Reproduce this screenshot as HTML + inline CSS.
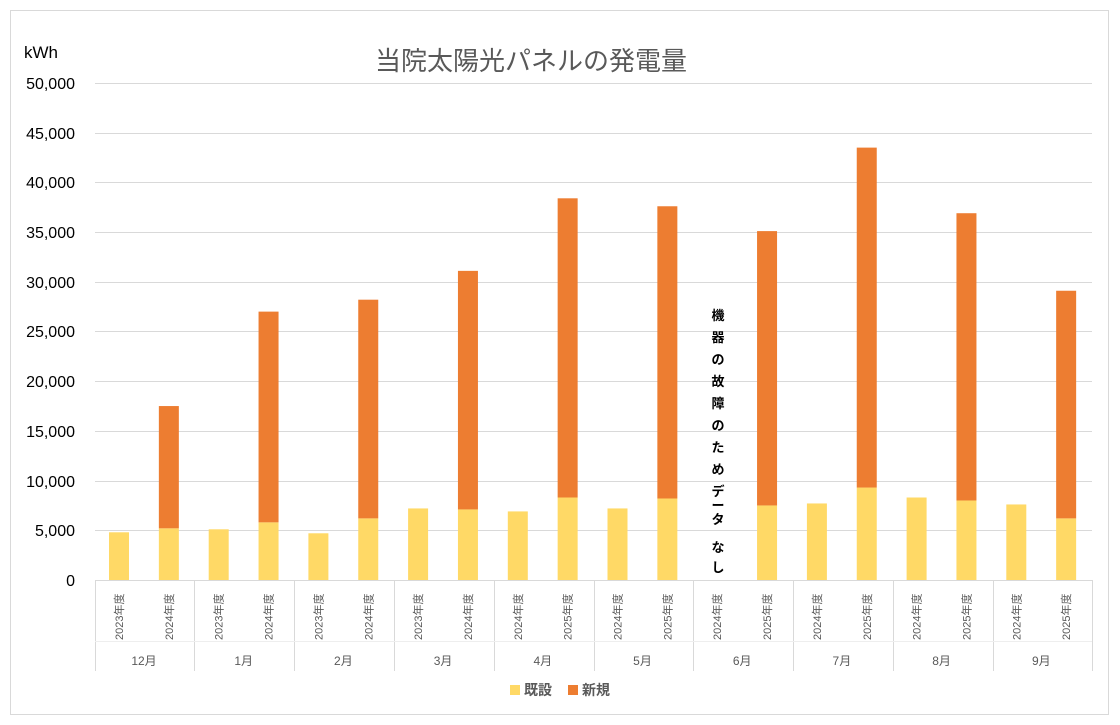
<!DOCTYPE html>
<html><head><meta charset="utf-8"><style>
body{margin:0;background:#fff}
svg{display:block;font-family:"Liberation Sans","Noto Sans CJK JP",sans-serif}
</style></head><body>
<svg width="1120" height="725" viewBox="0 0 1120 725" xmlns="http://www.w3.org/2000/svg">
<rect x="10.5" y="10.5" width="1098" height="704" fill="#fff" stroke="#d9d9d9"/>
<text x="531" y="70" font-size="26" fill="#595959" text-anchor="middle">当院太陽光パネルの発電量</text>
<text x="24" y="58" font-size="17" fill="#000">kWh</text>
<g stroke="#d9d9d9" stroke-width="1">
<line x1="95" x2="1092" y1="83.5" y2="83.5"/><line x1="95" x2="1092" y1="133.5" y2="133.5"/>
<line x1="95" x2="1092" y1="182.5" y2="182.5"/><line x1="95" x2="1092" y1="232.5" y2="232.5"/>
<line x1="95" x2="1092" y1="282.5" y2="282.5"/><line x1="95" x2="1092" y1="331.5" y2="331.5"/>
<line x1="95" x2="1092" y1="381.5" y2="381.5"/><line x1="95" x2="1092" y1="431.5" y2="431.5"/>
<line x1="95" x2="1092" y1="481.5" y2="481.5"/><line x1="95" x2="1092" y1="530.5" y2="530.5"/>
<line x1="95" x2="1092" y1="580.5" y2="580.5"/>
</g>
<g font-size="16" fill="#000" text-anchor="end">
<text x="75" y="89">50,000</text><text x="75" y="139">45,000</text><text x="75" y="188">40,000</text>
<text x="75" y="238">35,000</text><text x="75" y="288">30,000</text><text x="75" y="337">25,000</text>
<text x="75" y="387">20,000</text><text x="75" y="437">15,000</text><text x="75" y="487">10,000</text>
<text x="75" y="536">5,000</text><text x="75" y="586">0</text>
</g>
<g id="bars"></g>
<g stroke="#d9d9d9">
<line x1="95.5" x2="95.5" y1="580" y2="671"/><line x1="194.5" x2="194.5" y1="580" y2="671"/>
<line x1="294.5" x2="294.5" y1="580" y2="671"/><line x1="394.5" x2="394.5" y1="580" y2="671"/>
<line x1="494.5" x2="494.5" y1="580" y2="671"/><line x1="594.5" x2="594.5" y1="580" y2="671"/>
<line x1="693.5" x2="693.5" y1="580" y2="671"/><line x1="793.5" x2="793.5" y1="580" y2="671"/>
<line x1="893.5" x2="893.5" y1="580" y2="671"/><line x1="993.5" x2="993.5" y1="580" y2="671"/>
<line x1="1092.5" x2="1092.5" y1="580" y2="671"/>
<line x1="95" x2="1092" y1="641.5" y2="641.5" stroke="#eeeeee"/>
</g>
<g font-size="12" fill="#595959" text-anchor="middle" id="months"></g>
<g font-size="11" fill="#595959" id="years"></g>
<g font-size="13" font-weight="bold" fill="#000" text-anchor="middle">
<text x="718" y="320">機</text><text x="718" y="342">器</text><text x="718" y="364">の</text>
<text x="718" y="386">故</text><text x="718" y="408">障</text><text x="718" y="430">の</text>
<text x="718" y="452">た</text><text x="718" y="474">め</text><text x="718" y="496">デ</text>
<text x="718" y="510">ー</text><text x="718" y="524">タ</text><text x="718" y="552">な</text><text x="718" y="572">し</text>
</g>
<rect x="510" y="685" width="10" height="10" fill="#ffd966"/>
<text x="524" y="695" font-size="14" font-weight="bold" fill="#595959">既設</text>
<rect x="568" y="685" width="10" height="10" fill="#ed7d31"/>
<text x="582" y="695" font-size="14" font-weight="bold" fill="#595959">新規</text>
<script>
var d=[[4800,0],[5200,17500],[5100,0],[5800,27000],[4700,0],[6200,28200],[7200,0],[7100,31100],[6900,0],[8300,38400],[7200,0],[8200,37600],[0,0],[7500,35100],[7700,0],[9300,43500],[8300,0],[8000,36900],[7600,0],[6200,29100]];
var yrs=["2023","2024","2023","2024","2023","2024","2023","2024","2024","2025","2024","2025","2024","2025","2024","2025","2024","2025","2024","2025"];
var m=["12月","1月","2月","3月","4月","5月","6月","7月","8月","9月"];
var ns="http://www.w3.org/2000/svg",b=document.getElementById("bars"),yg=document.getElementById("years"),mg=document.getElementById("months");
function Y(v){return 580-v*0.00994;}
d.forEach(function(p,i){var cx=119+i*49.85;
if(p[0]){var r=document.createElementNS(ns,"rect");r.setAttribute("x",cx-10);r.setAttribute("width",20);r.setAttribute("y",Y(p[0]));r.setAttribute("height",p[0]*0.00994);r.setAttribute("fill","#ffd966");b.appendChild(r);}
if(p[1]){var r=document.createElementNS(ns,"rect");r.setAttribute("x",cx-10);r.setAttribute("width",20);r.setAttribute("y",Y(p[1]));r.setAttribute("height",(p[1]-p[0])*0.00994);r.setAttribute("fill","#ed7d31");b.appendChild(r);}
var t=document.createElementNS(ns,"text");t.setAttribute("transform","translate("+(cx+4)+",640) rotate(-90)");t.textContent=yrs[i]+"年度";yg.appendChild(t);});
m.forEach(function(s,i){var t=document.createElementNS(ns,"text");t.setAttribute("x",144+i*99.7);t.setAttribute("y",665);t.textContent=s;mg.appendChild(t);});
</script>
</svg>
</body></html>
